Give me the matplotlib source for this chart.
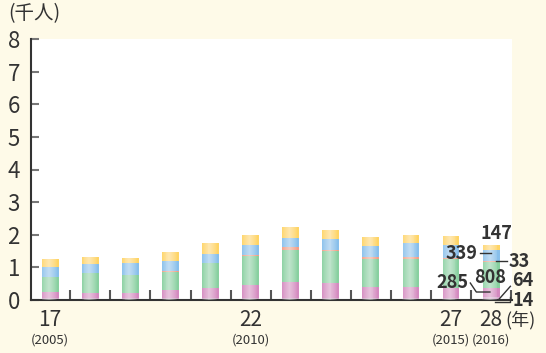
import matplotlib
matplotlib.use("Agg")
import matplotlib.pyplot as plt
import numpy as np

plt.rcParams['font.family'] = ['Noto Sans CJK JP', 'DejaVu Sans']

# Data (people, per year) -> plotted in thousands
years_jp = ["17", "18", "19", "20", "21", "22", "23", "24", "25", "26", "27", "28"]
years_ad = ["2005", "2006", "2007", "2008", "2009", "2010", "2011", "2012", "2013", "2014", "2015", "2016"]
seg_a = [10, 10, 10, 10, 10, 10, 10, 10, 10, 10, 10, 14]        # bottom thin
seg_b = [40, 40, 40, 50, 60, 60, 60, 60, 60, 60, 60, 64]        # bottom thin 2
pink = [210, 170, 170, 250, 310, 390, 480, 450, 330, 330, 290, 285]
green = [450, 600, 550, 550, 740, 900, 990, 970, 870, 870, 890, 808]
orange = [10, 20, 10, 30, 10, 30, 70, 30, 40, 40, 50, 33]
blue = [280, 270, 340, 310, 290, 300, 300, 350, 350, 440, 380, 339]
yellow = [270, 210, 180, 270, 340, 300, 330, 280, 270, 240, 270, 147]
labeled = [0, 5, 10, 11]

series = [seg_a, seg_b, pink, green, orange, blue, yellow]
colors = ["#f6c7a0", "#d9b0d0", "#d48ac0", "#88d0a0", "#f39f86", "#88bfeb", "#fed466"]

fig = plt.figure(figsize=(5.46, 3.53), dpi=100, facecolor="#fefae8")
ax = fig.add_axes([31/546, 53/353, 481/546, 261/353])
ax.set_facecolor("white")

x = np.arange(len(years_jp))
w = 0.42
bottom = np.zeros(len(x))
for vals, c in zip(series, colors):
    v = np.array(vals) / 1000.0
    ax.bar(x, v, w, bottom=bottom, color=c, linewidth=0, zorder=2)
    n = 8
    for k in range(n):
        ww = w * (1 - (k + 1) / (n + 1))
        ax.bar(x - 0.03, v, ww, bottom=bottom, color="white", alpha=0.08,
               linewidth=0, zorder=3)
    bottom += v

ax.set_xlim(-0.48, 11.52)
ax.set_ylim(0, 8)

for s in ["top", "right"]:
    ax.spines[s].set_visible(False)
ax.spines["left"].set_color("#333333")
ax.spines["left"].set_linewidth(1.5)
ax.spines["bottom"].set_color("#333333")
ax.spines["bottom"].set_linewidth(1.5)

ax.set_yticks(range(0, 9))
ax.set_yticklabels([str(i) for i in range(0, 9)], fontsize=16, color="#333333")
ax.tick_params(axis="y", direction="in", length=6, width=1.5, color="#777777", pad=8)

ax.set_xticks(np.arange(0.5, 11.6, 1.0))
ax.set_xticklabels([])
ax.tick_params(axis="x", direction="in", length=7, width=1.5, color="#555555")

trans = ax.get_xaxis_transform()
for i in labeled:
    ax.text(x[i], -0.075, years_jp[i], transform=trans, ha="center", va="center",
            fontsize=15, color="#333333")
    ax.text(x[i], -0.152, "(" + years_ad[i] + ")", transform=trans, ha="center",
            va="center", fontsize=9.5, color="#333333")

fig.text(505/546, 1 - 320/353, "(年)", ha="left", va="center", fontsize=13, color="#333333")
fig.text(8/546, 1 - 14/353, "(千人)", ha="left", va="center", fontsize=14, color="#333333")

# annotations for the last bar
kw = dict(fontsize=13, fontweight="bold", color="#333333", va="center", zorder=6)
lw = dict(color="#333333", linewidth=1.0, clip_on=False, zorder=6)
last = len(x) - 1
ax.text(x[last] + 0.12, 2.03, str(yellow[last]), ha="center", **kw)
ax.text(10.65, 1.44, str(blue[last]), ha="right", **kw)
ax.plot([10.73, 11.0], [1.44, 1.44], **lw)
ax.text(11.43, 1.17, str(orange[last]), ha="left", clip_on=False, **kw)
ax.plot([11.12, 11.40], [1.19, 1.19], **lw)
ax.text(x[last] - 0.02, 0.70, str(green[last]), ha="center", **kw)
ax.text(10.43, 0.55, str(pink[last]), ha="right", **kw)
ax.plot([10.48, 10.63, 10.97], [0.52, 0.245, 0.245], **lw)
ax.text(11.53, 0.60, str(seg_b[last]), ha="left", clip_on=False, **kw)
ax.plot([11.48, 11.2], [0.42, 0.03], **lw)
ax.text(11.53, 0.0, str(seg_a[last]), ha="left", clip_on=False, **kw)
ax.plot([11.1, 11.48, 11.48], [-0.07, -0.07, 0.1], **lw)

fig.savefig("out.png", dpi=100, facecolor=fig.get_facecolor())
